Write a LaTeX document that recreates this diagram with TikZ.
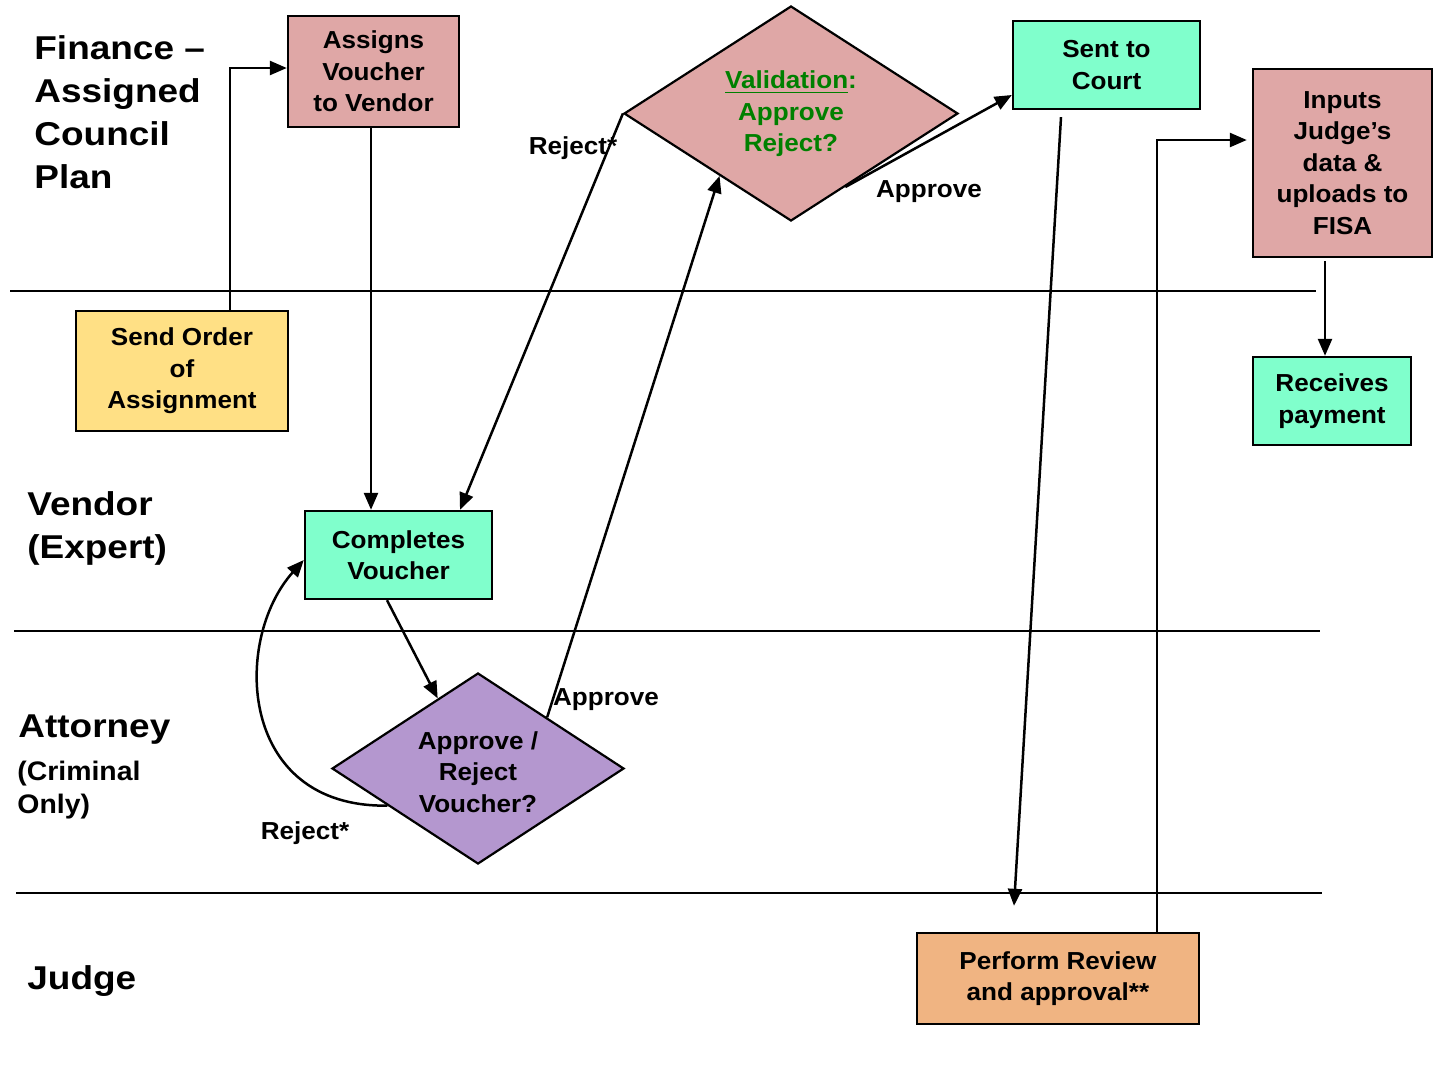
\documentclass[tikz,border=0pt]{standalone}
\usepackage{fontspec}
\setmainfont{Liberation Sans}[FakeStretch=1.06]
\newfontfamily\headfamily{Liberation Sans}[FakeStretch=1.12]
\usetikzlibrary{shapes.geometric,arrows.meta,calc}
\definecolor{pinkfill}{HTML}{DFA7A6}
\definecolor{aquafill}{HTML}{80FFCC}
\definecolor{yellowfill}{HTML}{FFE085}
\definecolor{purplefill}{HTML}{B497CF}
\definecolor{orangefill}{HTML}{F0B482}
\definecolor{valgreen}{HTML}{008000}
\newcommand\nfont{\bfseries\fontsize{12.3}{15.7}\selectfont}
\newcommand\hfont{\headfamily\bfseries\fontsize{16.5}{21.5}\selectfont}
\newcommand\sfont{\bfseries\fontsize{13.4}{16.5}\selectfont}
\begin{document}
\begin{tikzpicture}[x=0.5pt,y=-0.5pt,
  box/.style={draw=black, line width=1.2pt, inner sep=0pt, align=center, font=\nfont},
  decision/.style={shape=diamond, draw=black, line width=1.1pt, inner sep=0pt},
  conn/.style={line width=1.25pt, -{Triangle[length=8.5pt,width=7pt]}},
  lane/.style={line width=1.1pt},
  lbl/.style={font=\nfont, inner sep=0pt},
  head/.style={font=\hfont, anchor=north west, align=left, inner sep=0pt}]
\useasboundingbox (0,0) rectangle (1434,1072);

% swimlane separators
\draw[lane] (10,291) -- (1316,291);
\draw[lane] (14,631) -- (1320,631);
\draw[lane] (16,893) -- (1322,893);

% lane headings
\node[head] (hfin) at (34,35) {Finance –\\Assigned\\Council\\Plan};
\node[head] (hven) at (27,491) {Vendor\\(Expert)};
\node[head] (hatt) at (18,714) {Attorney};
\node[head, font=\sfont] (hcrim) at (17,761) {(Criminal\\Only)};
\node[head] (hjud) at (27,965) {Judge};

% process boxes
\node[box, fill=pinkfill, minimum width=85.5pt, minimum height=55.5pt] (assign) at (373.5,71.5) {Assigns\\Voucher\\to Vendor};
\node[box, fill=aquafill, minimum width=93.5pt, minimum height=44pt] (sent) at (1106.5,65) {Sent to\\Court};
\node[box, fill=pinkfill, minimum width=89.5pt, minimum height=94pt] (inputs) at (1342.5,163) {Inputs\\Judge’s\\data \&\\uploads to\\FISA};
\node[box, fill=aquafill, minimum width=79pt, minimum height=44pt] (recv) at (1332,401) {Receives\\payment};
\node[box, fill=yellowfill, minimum width=106pt, minimum height=60pt] (send) at (182,371) {Send Order\\of\\Assignment};
\node[box, fill=aquafill, minimum width=93.5pt, minimum height=44pt] (comp) at (398.5,555) {Completes\\Voucher};
\node[box, fill=orangefill, minimum width=141pt, minimum height=45.5pt] (perf) at (1058,978.5) {Perform Review\\and approval**};

% decisions
\node[decision, fill=pinkfill, minimum width=167pt, minimum height=107.5pt] (valid) at (791,113.5) {};
\node[lbl, text=valgreen, align=center] (vtext) at (791,114) {\underline{Validation}:\\Approve\\Reject?};
\node[decision, fill=purplefill, minimum width=146pt, minimum height=95.5pt] (ar) at (478,768.5) {};
\node[lbl, align=center] (artext) at (478,772) {Approve /\\Reject\\Voucher?};

% connector labels
\node[lbl] (lrej1) at (573,148) {Reject*};
\node[lbl] (lapp1) at (929,192) {Approve};
\node[lbl] (lapp2) at (606,700) {Approve};
\node[lbl] (lrej2) at (305,833) {Reject*};

% connectors
\draw[conn] ([xshift=24pt]send.north) |- ([yshift=1.75pt]assign.west);
\draw[conn] ([xshift=-1.25pt]assign.south) -- ([xshift=-1.25pt]assign.south |- comp.north);
\draw[conn] (valid.west) -- ([xshift=30.75pt]comp.north);
\draw[conn] ($(ar.north)!0.47!(ar.east)$) -- ($(valid.west)!0.575!(valid.south)$);
\draw[conn] ([xshift=-5.75pt]comp.south) -- ($(ar.west)!0.726!(ar.north)$);
\draw[conn] ($(ar.west)!0.384!(ar.south)$) .. controls (238,808) and (232,640) .. ([yshift=-2.5pt]comp.west);
\draw[conn] ($(valid.south)!0.323!(valid.east)$) -- ([yshift=-15pt]sent.west);
\draw[conn] ([xshift=-22.75pt,yshift=-3.5pt]sent.south) -- ([xshift=-22pt,yshift=13pt]perf.north);
\draw[conn] ([xshift=49.5pt]perf.north) |- ([xshift=-2.5pt,yshift=11.5pt]inputs.west);
\draw[conn] ([xshift=-8.75pt,yshift=-1.5pt]inputs.south) -- ([xshift=-8.75pt]inputs.south |- recv.north);
\end{tikzpicture}
\end{document}
